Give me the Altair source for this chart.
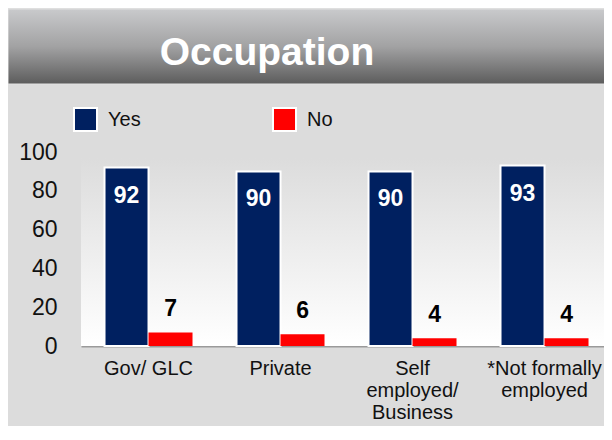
import altair as alt
import pandas as pd

categories = ["Gov/ GLC", "Private", "Self\nemployed/\nBusiness", "*Not formally\nemployed"]
yes_values = [92, 90, 90, 93]
no_values = [7, 6, 4, 4]
series_names = ["Yes", "No"]
series_colors = ["#002060", "#ff0000"]
title_text = "Occupation"

rows = []
for c, y, n in zip(categories, yes_values, no_values):
    rows.append({"category": c, "series": "Yes", "value": y})
    rows.append({"category": c, "series": "No", "value": n})
df = pd.DataFrame(rows)

W, H = 523, 194
TOP = 144
FONT = "Liberation Sans"

x_enc = alt.X("category:N", sort=categories, title=None,
              scale=alt.Scale(paddingInner=0.3333, paddingOuter=0.1477, align=0.603),
              axis=alt.Axis(labelExpr="split(datum.label, '\\n')", labelAngle=0,
                            ticks=False, domainColor="#9a9a9a", domainWidth=2,
                            labelFontSize=20, labelColor="#111111", labelPadding=12,
                            labelLineHeight=22, labelBaseline="top", labelFont=FONT,
                            labelOverlap=False))
y_enc = alt.Y("value:Q", title=None,
              scale=alt.Scale(domain=[0, 100], nice=False),
              axis=alt.Axis(values=[0, 20, 40, 60, 80, 100], ticks=False, domain=False,
                            grid=False, labelFontSize=23, labelColor="#111111",
                            labelPadding=24, labelFont=FONT, labelOverlap=False,
                            labelFlush=False))
xoff = alt.XOffset("series:N", sort=series_names, scale=alt.Scale(paddingInner=0, paddingOuter=0))
color_enc = alt.Color("series:N", sort=series_names,
                      scale=alt.Scale(domain=series_names, range=series_colors),
                      legend=alt.Legend(title=None, orient="none", legendX=-8, legendY=-45,
                                        direction="horizontal", symbolType="square",
                                        symbolSize=529, symbolStrokeColor="white",
                                        symbolStrokeWidth=2, labelFontSize=20,
                                        labelColor="#111111", labelOffset=10,
                                        columnPadding=128, padding=0, labelFont=FONT))

one = pd.DataFrame({"k": [0]})

plot_bg = alt.Chart(one).mark_rect(
    color=alt.Gradient(gradient="linear",
                       stops=[alt.GradientStop(color="#dcdcdc", offset=0),
                              alt.GradientStop(color="#ffffff", offset=1)],
                       x1=0, x2=0, y1=0, y2=1)
).encode(x=alt.value(0), x2=alt.value(W + 10), y=alt.value(6), y2=alt.value(H))

banner = alt.Chart(one).mark_rect(
    color=alt.Gradient(gradient="linear",
                       stops=[alt.GradientStop(color="#c9cacc", offset=0),
                              alt.GradientStop(color="#a2a2a3", offset=0.5),
                              alt.GradientStop(color="#5c5c5c", offset=1)],
                       x1=0, x2=0, y1=0, y2=1),
    stroke="#e2e2e2", strokeWidth=1
).encode(x=alt.value(-73), x2=alt.value(W + 10), y=alt.value(1 - TOP), y2=alt.value(76 - TOP))

title = alt.Chart(one).mark_text(
    text=title_text, font=FONT, fontWeight="bold", fontSize=39,
    color="white", align="center", baseline="alphabetic"
).encode(x=alt.value(186), y=alt.value(57 - TOP))

bars = alt.Chart(df).mark_bar(stroke="white").encode(
    x=x_enc, y=y_enc, xOffset=xoff, color=color_enc,
    strokeWidth=alt.condition("datum.series == 'Yes'", alt.value(2), alt.value(0)),
)

yes_labels = alt.Chart(df).transform_filter("datum.series == 'Yes'").mark_text(
    dy=35, baseline="alphabetic", align="center", color="white",
    fontWeight="bold", fontSize=23, font=FONT
).encode(x=x_enc, xOffset=xoff, y=y_enc, text="value:Q")

no_labels = alt.Chart(df).transform_filter("datum.series == 'No'").mark_text(
    dy=-16, baseline="alphabetic", align="center", color="black",
    fontWeight="bold", fontSize=23, font=FONT
).encode(x=x_enc, xOffset=xoff, y=y_enc, text="value:Q")

chart = alt.layer(plot_bg, banner, title, bars, yes_labels, no_labels).properties(
    width=W, height=H,
    padding={"left": 73, "top": TOP, "right": 0, "bottom": 418 - TOP - H},
    autosize=alt.AutoSizeParams(type="none"),
).configure(background="#dcdcdc", font=FONT).configure_view(strokeWidth=0)

chart.save("out.html", embed_options={"renderer": "svg", "actions": False})
